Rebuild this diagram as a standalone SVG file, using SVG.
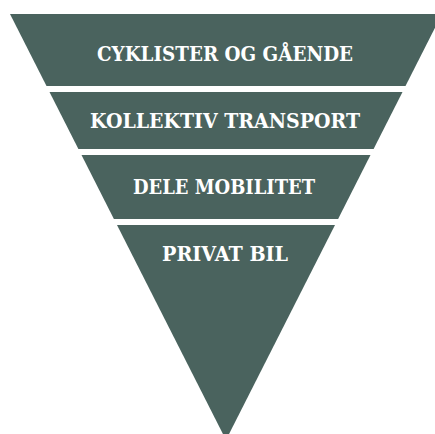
<svg xmlns="http://www.w3.org/2000/svg" width="435" height="434" viewBox="0 0 435 434">
  <style>
    .band { fill: #4a635e; }
    .lbl { font-family: "DejaVu Serif", "Liberation Serif", serif; font-weight: bold; font-size: 20px; fill: #ffffff; text-anchor: middle; }
  </style>
  <rect width="435" height="434" fill="#ffffff"/>
  <g id="node-cyklister">
    <polygon class="band" points="10,14 442,14 405.5,86 46.5,86"/>
    <text class="lbl" x="225" y="61" textLength="256" lengthAdjust="spacingAndGlyphs">CYKLISTER OG GÅENDE</text>
  </g>
  <g id="node-kollektiv">
    <polygon class="band" points="49.5,92 402.5,92 373.6,149 78.4,149"/>
    <text class="lbl" x="225" y="128" textLength="270" lengthAdjust="spacingAndGlyphs">KOLLEKTIV TRANSPORT</text>
  </g>
  <g id="node-dele">
    <polygon class="band" points="81.5,155 370.5,155 338.1,219 113.9,219"/>
    <text class="lbl" x="224" y="194" textLength="182" lengthAdjust="spacingAndGlyphs">DELE MOBILITET</text>
  </g>
  <g id="node-privat">
    <polygon class="band" points="117,225 335,225 226,440"/>
    <text class="lbl" x="225" y="261" textLength="126" lengthAdjust="spacingAndGlyphs">PRIVAT BIL</text>
  </g>
</svg>
